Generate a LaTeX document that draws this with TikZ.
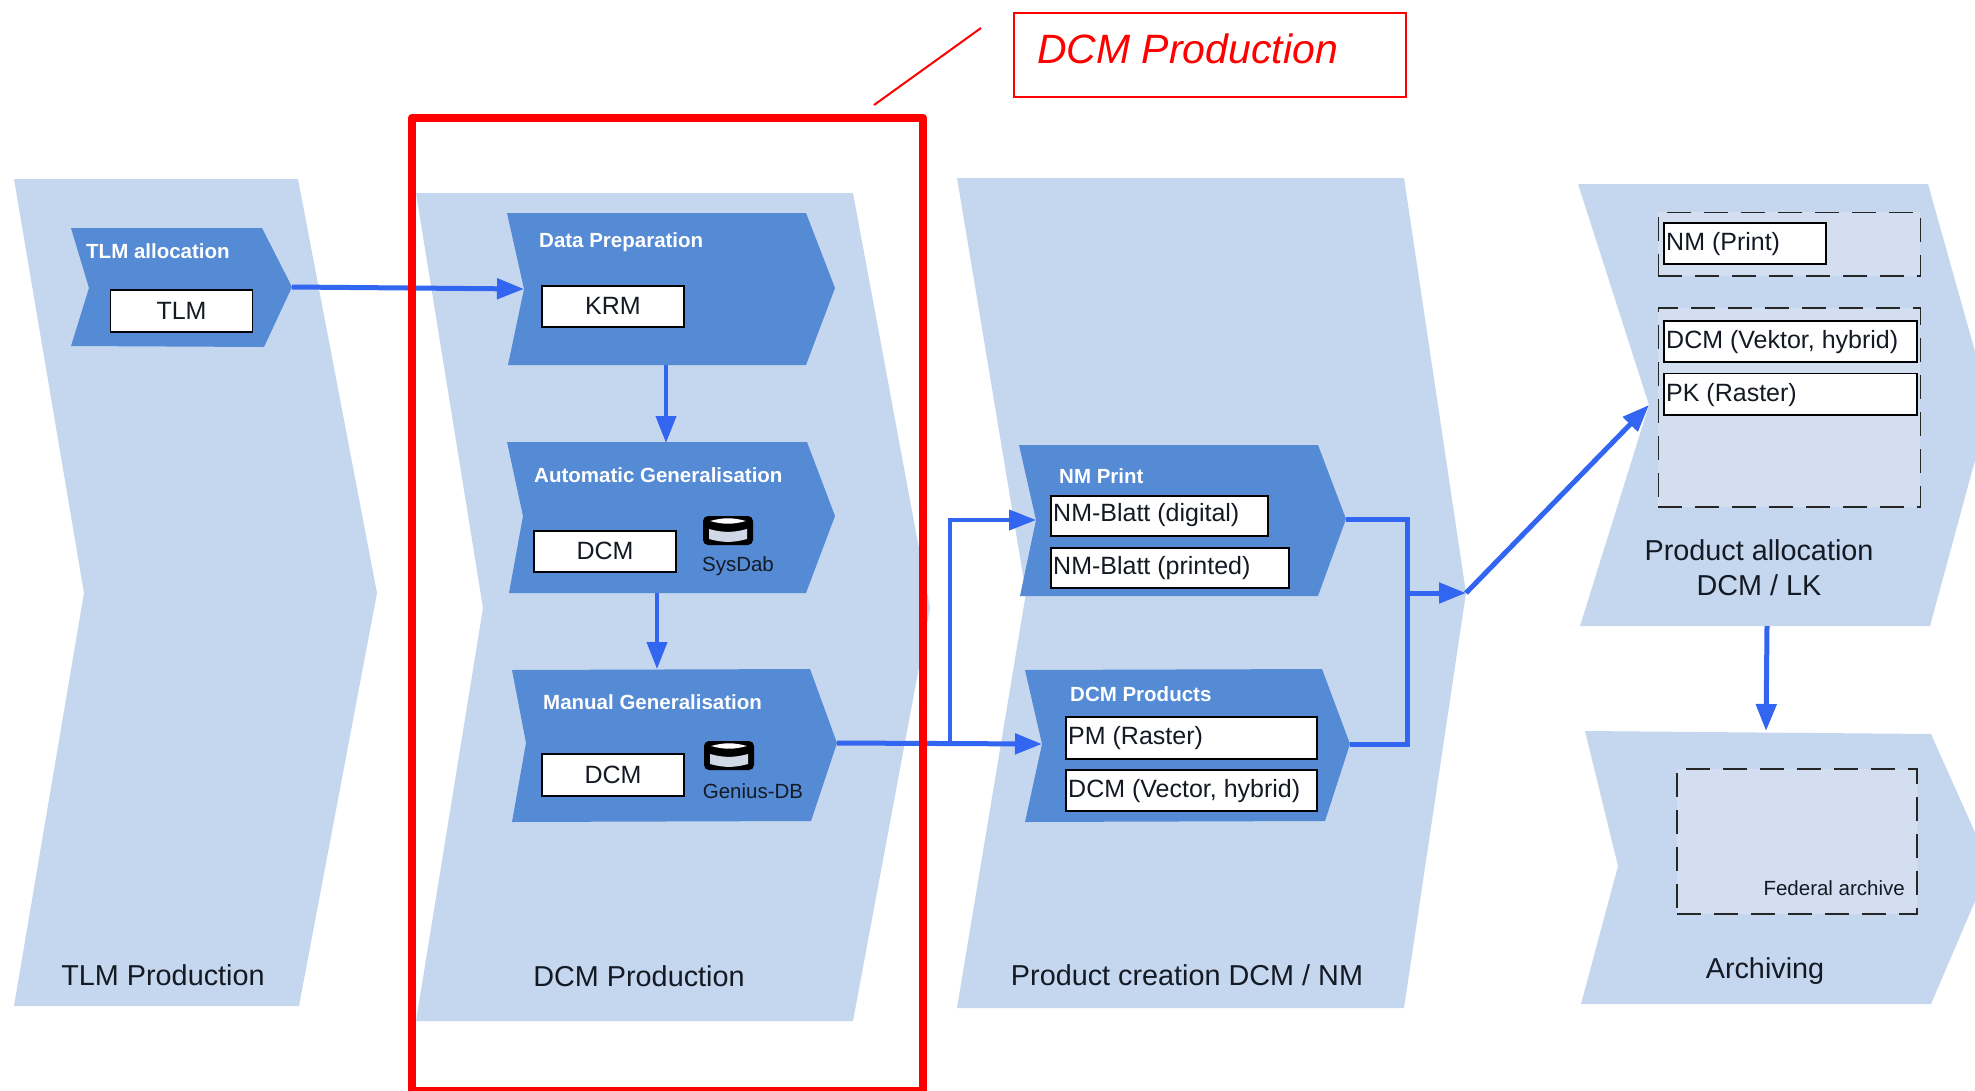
\documentclass[tikz,border=0pt]{standalone}
\usepackage{fontspec}
\setmainfont{Liberation Sans}
\usetikzlibrary{arrows.meta}
\definecolor{bandc}{HTML}{C5D7EF}
\definecolor{blockc}{HTML}{558AD4}
\definecolor{dashc}{HTML}{D3DEF0}
\definecolor{arrowc}{HTML}{3366F0}
\definecolor{inkc}{HTML}{141A24}
\definecolor{dbgrey}{HTML}{D0D8E6}
\tikzset{
  x=1pt,y=-1pt,
  band/.style={fill=bandc},
  block/.style={fill=blockc},
  whitebox/.style={draw=black,line width=1.4pt,fill=white,anchor=north west,inner sep=0pt,outer sep=0pt},
  boxtext/.style={font=\fontsize{25}{25}\selectfont,text=inkc,anchor=west,inner sep=0pt},
  blocktitle/.style={font=\fontsize{20.5}{22}\bfseries,text=white,anchor=west,inner sep=0pt},
  bandtitle/.style={font=\fontsize{28.8}{35}\selectfont,text=inkc,inner sep=0pt,align=center},
  smalltext/.style={font=\fontsize{20.5}{22}\selectfont,text=inkc,inner sep=0pt},
  dashbox/.style={draw=black!85,line width=1.8pt,dash pattern=on 24pt off 13pt,fill=dashc},
  flow/.style={draw=arrowc,line width=5pt},
  flowthin/.style={draw=arrowc,line width=4pt},
  tipb/.style={-{Triangle[length=27pt,width=20pt,fill=arrowc]}},
  redline/.style={draw=red,line width=2pt},
  dbicon/.pic={
    \fill[black,rounded corners=5pt] (-25,-14) -- (25,-14) -- (25,15) -- (-25,15) -- cycle;
    \fill[white] (-18,-9) to[out=15,in=165] (18,-9) to[out=195,in=-15] (-18,-9) -- cycle;
    \fill[dbgrey] (-19,-1) to[out=-15,in=195] (19,-1) -- (19,9) to[out=195,in=-15] (-19,9) -- cycle;
  }
}
\begin{document}
\begin{tikzpicture}
\useasboundingbox (0,0) rectangle (1975,1090);
\clip (0,0) rectangle (1975,1090);
\fill[white] (0,0) rectangle (1975,1090);
% bands
\fill[band] (14,179) -- (298,179) -- (377,593) coordinate (tlmTip) -- (299,1006) -- (14,1006) -- (84,593) -- cycle;
\fill[band] (416,193) -- (853,193) -- (930,608) coordinate (dcmTip) -- (853,1021) -- (416,1021) -- (483,608) -- cycle;
\fill[band] (957,178) -- (1404,178) -- (1466,593) coordinate (pcTip) -- (1404,1008) -- (957,1008) -- (1026,593) -- cycle;
\fill[band] (1578,184) -- (1928,184) -- (1990,405) -- (1930,626) coordinate (paBR) -- (1580,626) -- (1649,405) coordinate (paNotch) -- cycle;
\fill[band] (1585,731) -- (1931,734) -- (1990,866) -- (1931,1004) -- (1581,1004) -- (1618,866) -- cycle;
\coordinate (paBottom) at (1767,626);
\coordinate (arTop) at (1766,731);
% blocks
\fill[block] (71,228) -- (262,228) -- (292,287) coordinate (tlaTip) -- (264,347) -- (71,346) -- (89,288) -- cycle;
\fill[block] (507,213) -- (806,213) -- (835,288) -- (806,365) -- (508,365) -- (524,289) coordinate (dpNotch) -- cycle;
\fill[block] (507,442) -- (807,442) -- (835,516) -- (806,593) -- (509,593) -- (523,516) -- cycle;
\fill[block] (512,670) -- (810,669) -- (837,743) coordinate (mgTip) -- (811,821) -- (512,822) -- (526,743) -- cycle;
\fill[block] (1019,445) -- (1318,445) -- (1346,519) coordinate (nmTip) -- (1318,596) -- (1020,596) -- (1036,520) coordinate (nmNotch) -- cycle;
\fill[block] (1025,670) -- (1322,669) -- (1350,744) coordinate (dpTip) -- (1325,821) -- (1025,822) -- (1042,744) coordinate (dpdNotch) -- cycle;
\coordinate (dpBottom) at (666,365);
\coordinate (agTop) at (666,443);
\coordinate (agBottom) at (657,593);
\coordinate (mgTop) at (657,669);
% dashed groups
\node[dashbox,anchor=north west,inner sep=0pt,minimum width=262pt,minimum height=63.5pt] (gPrint) at (1657.5,211.5) {};
\node[dashbox,anchor=north west,inner sep=0pt,minimum width=262pt,minimum height=199pt] (gDcm) at (1657.5,307) {};
\node[dashbox,anchor=north west,inner sep=0pt,minimum width=240pt,minimum height=145pt] (gArch) at (1676,768) {};
% white boxes
\node[whitebox,minimum width=142pt,minimum height=42pt] (bTlm) at (110.5,290) {};
\node[font=\fontsize{25}{25}\selectfont,text=inkc,inner sep=0pt] (tTlm) at ([yshift=0.5pt]bTlm.center) {TLM};
\node[whitebox,minimum width=142pt,minimum height=41pt] (bKrm) at (542,286) {};
\node[font=\fontsize{25}{25}\selectfont,text=inkc,inner sep=0pt] (tKrm) at ([yshift=0.5pt]bKrm.center) {KRM};
\node[whitebox,minimum width=142pt,minimum height=41pt] (bDcmA) at (534,531) {};
\node[font=\fontsize{25}{25}\selectfont,text=inkc,inner sep=0pt] (tDcmA) at ([yshift=0.5pt]bDcmA.center) {DCM};
\node[whitebox,minimum width=142pt,minimum height=42pt] (bDcmM) at (542,754) {};
\node[font=\fontsize{25}{25}\selectfont,text=inkc,inner sep=0pt] (tDcmM) at ([yshift=0.5pt]bDcmM.center) {DCM};
\node[whitebox,minimum width=217pt,minimum height=40pt] (bNmD) at (1051,496) {};
\node[boxtext] (tNmD) at (1053,515.5) {NM-Blatt (digital)};
\node[whitebox,minimum width=238pt,minimum height=40pt] (bNmP) at (1051,548) {};
\node[boxtext] (tNmP) at (1053,568.5) {NM-Blatt (printed)};
\node[whitebox,minimum width=251pt,minimum height=42pt] (bPm) at (1066,717) {};
\node[boxtext] (tPm) at (1068,738.5) {PM (Raster)};
\node[whitebox,minimum width=251pt,minimum height=41pt] (bDv) at (1066,770) {};
\node[boxtext] (tDv) at (1068,791.5) {DCM (Vector, hybrid)};
\node[whitebox,minimum width=162pt,minimum height=41pt] (bNp) at (1664,223) {};
\node[boxtext] (tNp) at (1666,244.5) {NM (Print)};
\node[whitebox,minimum width=253pt,minimum height=41pt] (bDk) at (1664,321) {};
\node[boxtext] (tDk) at (1666,342.5) {DCM (Vektor, hybrid)};
\node[whitebox,minimum width=253pt,minimum height=41.5pt] (bPk) at (1664,373.5) {};
\node[boxtext] (tPk) at (1666,395.5) {PK (Raster)};
% block titles
\node[blocktitle] (hTla) at (86,251) {TLM allocation};
\node[blocktitle] (hDp) at (539,242) {Data Preparation};
\node[blocktitle] (hAg) at (534,475) {Automatic Generalisation};
\node[blocktitle] (hMg) at (543,702.5) {Manual Generalisation};
\node[blocktitle] (hNm) at (1059,476) {NM Print};
\node[blocktitle] (hDc) at (1070,694) {DCM Products};
% db icons
\pic at (728,530) {dbicon};
\pic at (729,755) {dbicon};
\node[smalltext,anchor=center] (tSys) at (738,566) {SysDab};
\node[smalltext,anchor=center] (tGen) at (753,791) {Genius-DB};
\node[smalltext,anchor=east] (tFed) at (1905,888) {Federal archive};
% band titles
\node[bandtitle] (nTlm) at (163,975.5) {TLM Production};
\node[bandtitle] (nDcm) at (639,976) {DCM Production};
\node[bandtitle] (nPc) at (1187,975.5) {Product creation DCM / NM};
\node[bandtitle] (nPa) at (1759,568) {Product allocation\\DCM / LK};
\node[bandtitle] (nAr) at (1765,971) {Archiving};
% connectors
\draw[flow,tipb] (tlaTip) -- (dpNotch);
\draw[flowthin,tipb] (dpBottom) -- (agTop);
\draw[flowthin,tipb] (agBottom) -- (mgTop);
\draw[flow,tipb] (mgTip) -- (dpdNotch);
\coordinate (branch) at (950,743);
\draw[flowthin,tipb] (branch) |- (nmNotch);
\coordinate (collect) at (1407,593);
\draw[flow] (nmTip) -| (collect) |- (dpTip);
\draw[flow,tipb] (collect) -- (pcTip);
\draw[flow,tipb] (pcTip) -- (paNotch);
\draw[flow,tipb] (paBottom) -- (arTop);
% red highlight
\coordinate (rTL) at (412,118);
\coordinate (rBR) at (923,1091);
\draw[draw=red,line width=8.5pt,line join=round] (rTL) rectangle (rBR);
\coordinate (cA) at (874,105);
\coordinate (cB) at (981,28);
\draw[redline] (cA) -- (cB);
\node[draw=red,line width=2pt,anchor=north west,inner sep=0pt,minimum width=392pt,minimum height=84pt] (callout) at (1013,12) {};
\node[font=\fontsize{41}{41}\itshape,text=red,anchor=west,inner sep=0pt] (tCallout) at (1037,49) {DCM Production};
\end{tikzpicture}
\end{document}
